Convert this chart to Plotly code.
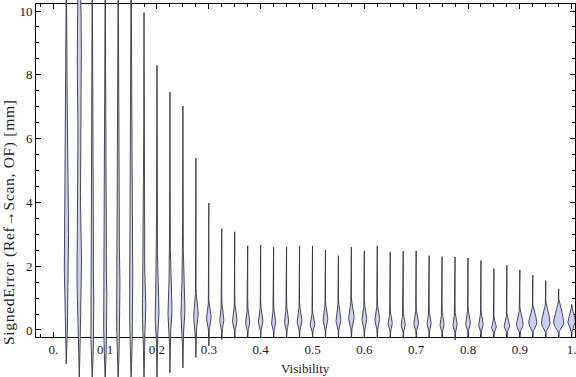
import math
import plotly.graph_objects as go

# ---------------- data ----------------
visibility = [0.025, 0.05, 0.075, 0.1, 0.125, 0.15, 0.175, 0.2, 0.225, 0.25,
              0.275, 0.3, 0.325, 0.35, 0.375, 0.4, 0.425, 0.45, 0.475, 0.5,
              0.525, 0.55, 0.575, 0.6, 0.625, 0.65, 0.675, 0.7, 0.725, 0.75,
              0.775, 0.8, 0.825, 0.85, 0.875, 0.9, 0.925, 0.95, 0.975, 1.0]

err_min = [-1.07, -1.6, -1.6, -1.6, -1.6, -1.6, -1.6, -1.6, -1.34, -1.19,
           -0.86, -0.5, -0.3, -0.26, -0.24, -0.24, -0.24, -0.24, -0.24, -0.24,
           -0.24, -0.24, -0.24, -0.24, -0.24, -0.24, -0.24, -0.24, -0.24, -0.24,
           -0.31, -0.24, -0.24, -0.24, -0.24, -0.24, -0.24, -0.24, -0.24, -0.24]

err_max = [12.0, 12.0, 12.0, 12.0, 12.0, 12.0, 9.95, 8.3, 7.46, 7.02,
           5.39, 3.98, 3.17, 3.08, 2.64, 2.66, 2.6, 2.6, 2.63, 2.64,
           2.51, 2.33, 2.6, 2.48, 2.64, 2.45, 2.47, 2.48, 2.33, 2.3,
           2.29, 2.26, 2.18, 1.93, 2.03, 1.88, 1.72, 1.55, 1.29, 0.72]

# main body of each density: lower end, mode, upper end
body_lo = [0.2, 0.3, -0.4, -0.4, -0.3, -0.3, -0.3, -0.3, -0.3, -0.3,
           -0.2, -0.12, -0.12, -0.12, -0.12, -0.12, -0.12, -0.12, -0.12, -0.12,
           -0.12, -0.12, -0.12, -0.12, -0.12, -0.12, -0.12, -0.12, -0.12, -0.12,
           -0.15, -0.12, -0.12, -0.12, -0.12, -0.12, -0.12, -0.12, -0.12, -0.12]
body_mode = [3.0, 1.9, 0.5, 0.6, 1.0, 1.2, 0.6, 0.5, 0.6, 0.6,
             0.5, 0.38, 0.3, 0.28, 0.22, 0.26, 0.22, 0.26, 0.26, 0.16,
             0.33, 0.3, 0.38, 0.33, 0.33, 0.2, 0.16, 0.2, 0.2, 0.16,
             0.16, 0.2, 0.16, 0.08, 0.12, 0.16, 0.22, 0.22, 0.22, 0.26]
body_hi = [5.0, 3.6, 1.7, 1.9, 2.7, 3.8, 1.9, 1.7, 2.0, 2.0,
           1.3, 1.0, 0.95, 0.95, 0.8, 0.85, 0.8, 0.85, 0.9, 0.65,
           0.95, 1.0, 1.05, 0.95, 0.9, 0.65, 0.6, 0.75, 0.65, 0.65,
           0.65, 0.75, 0.65, 0.45, 0.55, 0.75, 0.85, 0.95, 1.05, 0.8]
# relative density (half width) at the mode and along the tails
body_density = [2.3, 2.4, 1.9, 2.0, 2.0, 1.8, 1.8, 2.0, 2.0, 2.0,
                2.3, 2.3, 2.0, 2.2, 2.0, 2.2, 2.0, 2.0, 2.3, 2.3,
                2.3, 2.3, 2.7, 2.3, 2.3, 2.0, 2.0, 2.3, 2.0, 2.0,
                2.0, 2.3, 2.2, 2.3, 2.7, 3.3, 4.0, 4.3, 5.0, 3.7]
tail_density = [1.2, 1.3, 1.2, 1.2, 1.2, 1.1, 0.7, 0.5, 0.4, 0.4,
                0.2] + [0.0] * 29
# secondary mode (only the 0.05 bin shows one)
second_bin = 0.05
second_lo, second_mode, second_hi, second_density = 7.0, 9.0, 11.0, 2.2

y_ticks = [0, 2, 4, 6, 8, 10]
x_ticks = [0.0, 0.1, 0.2, 0.3, 0.4, 0.5, 0.6, 0.7, 0.8, 0.9, 1.0]
x_ticktext = ["0.", "0.1", "0.2", "0.3", "0.4", "0.5", "0.6", "0.7", "0.8", "0.9", "1."]

# ---------------- layout geometry ----------------
W, H = 576, 377
frame_l, frame_r, frame_t, frame_b = 36, 575, 4, 337
x_range = [-0.0334, 1.0064]
y_range = [-0.22, 10.22]
px_per_x = (frame_r - frame_l) / (x_range[1] - x_range[0])
px_per_y = (frame_b - frame_t) / (y_range[1] - y_range[0])
y2_range = [y_range[0] - (H - frame_b) / px_per_y, y_range[1] + frame_t / px_per_y]
width_scale = 1.0 / px_per_x

FILL = "rgb(201,208,243)"
EDGE = "rgba(55,55,65,0.9)"
FONT = "Liberation Serif"


def outline(knots, steps=10):
    """Smooth (eased) outline through the (value, density) knots."""
    pts = [knots[0]]
    for (y0, d0), (y1, d1) in zip(knots[:-1], knots[1:]):
        for s in range(1, steps + 1):
            t = s / steps
            e = (1 - math.cos(math.pi * t)) / 2
            pts.append((y0 + (y1 - y0) * t, d0 + (d1 - d0) * e))
    return pts


fig = go.Figure()

# empty trace so the framed main subplot is created
fig.add_trace(go.Scatter(x=[None], y=[None], xaxis="x", yaxis="y",
                         mode="markers", showlegend=False, hoverinfo="skip"))

for i, xv in enumerate(visibility):
    knots = [(err_min[i], 0.0), (body_lo[i], tail_density[i]),
             (body_mode[i], body_density[i]), (body_hi[i], tail_density[i])]
    if abs(xv - second_bin) < 1e-9:
        knots += [(second_lo, tail_density[i]), (second_mode, second_density),
                  (second_hi, tail_density[i])]
    knots.append((err_max[i], 0.0))
    pts = outline(knots)
    right_x = [xv + d * width_scale for _, d in pts]
    right_y = [y for y, _ in pts]
    left_x = [xv - d * width_scale for _, d in reversed(pts)]
    left_y = [y for y, _ in reversed(pts)]
    fig.add_trace(go.Scatter(
        x=right_x + left_x + [right_x[0]],
        y=right_y + left_y + [right_y[0]],
        xaxis="x2", yaxis="y2",
        mode="lines", fill="toself", fillcolor=FILL,
        line=dict(color=EDGE, width=1),
        hoverinfo="skip", showlegend=False,
    ))

axis_common = dict(
    showline=True, linecolor="black", linewidth=1, mirror="allticks",
    ticks="inside", tickcolor="black", tickwidth=1, ticklen=5,
    showgrid=False, zeroline=False, automargin=False,
    ticklabeloverflow="allow",
    tickfont=dict(family=FONT, size=13, color="#222222"),
)

fig.update_layout(
    width=W, height=H,
    margin=dict(l=0, r=0, t=0, b=0),
    paper_bgcolor="white", plot_bgcolor="rgba(0,0,0,0)",
    template="none",
    xaxis=dict(
        domain=[frame_l / W, frame_r / W], range=x_range,
        tickvals=x_ticks, ticktext=x_ticktext,
        minor=dict(dtick=0.025, tick0=0, ticks="inside", ticklen=3,
                   tickcolor="black", tickwidth=1, showgrid=False),
        **axis_common,
    ),
    yaxis=dict(
        domain=[(H - frame_b) / H, (H - frame_t) / H], range=y_range,
        tickvals=y_ticks,
        minor=dict(dtick=0.5, tick0=0, ticks="inside", ticklen=3,
                   tickcolor="black", tickwidth=1, showgrid=False),
        **axis_common,
    ),
    xaxis2=dict(domain=[frame_l / W, frame_r / W], range=x_range, anchor="y2",
                visible=False, fixedrange=True),
    yaxis2=dict(domain=[0, 1], range=y2_range, anchor="x2",
                visible=False, fixedrange=True),
    annotations=[
        dict(text="Visibility", xref="paper", yref="paper",
             x=(frame_l + frame_r) / 2 / W, y=(H - 368) / H,
             showarrow=False, font=dict(family=FONT, size=13, color="#222222"),
             xanchor="center", yanchor="middle"),
        dict(text="<span style='letter-spacing:0.7px'>SignedError (Ref\u2192Scan, OF) [mm]</span>",
             xref="paper", yref="paper",
             x=9 / W, y=(H - 222) / H, textangle=-90,
             showarrow=False, font=dict(family=FONT, size=15.5, color="#222222"),
             xanchor="center", yanchor="middle"),
    ],
)

fig.write_html("out.html", config={"displayModeBar": False},
               post_script="document.body.style.margin='0px';")
